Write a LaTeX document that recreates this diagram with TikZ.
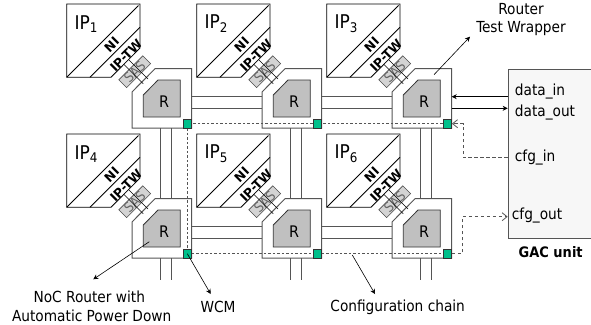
\documentclass[tikz,border=0pt]{standalone}
\usepackage{fontspec}
\setmainfont{DejaVu Sans Condensed}
\newfontfamily\tagfont{DejaVu Sans}
\usetikzlibrary{arrows.meta,positioning,calc}
\definecolor{wire}{HTML}{555555}
\definecolor{rcore}{HTML}{C0C0C0}
\definecolor{wcmgreen}{HTML}{00C08B}
\definecolor{gacfill}{HTML}{F7F7F7}

\begin{document}
\begin{tikzpicture}[x=1bp,y=-1bp,
  ipbox/.style={draw=black, line width=0.8bp, fill=white},
  tw/.style={draw=wire, line width=1bp, fill=white},
  rc/.style={draw=black!80, line width=0.8bp, fill=rcore},
  link/.style={draw=wire, line width=1bp},
  sas/.style={draw=black!70, line width=0.6bp, fill=rcore!70, minimum width=34bp, minimum height=11bp, inner sep=0pt, rotate=45, font=\fontsize{13.5}{13.5}\selectfont, text=black!60},
  wcm/.style={draw=black!80, line width=0.7bp, fill=wcmgreen, minimum size=8.6bp, inner sep=0pt},
  lab/.style={font=\fontsize{15.3}{17}\selectfont, inner sep=0pt},
  tag/.style={font=\tagfont\bfseries\fontsize{12.5}{13}\selectfont, rotate=45, inner sep=0pt},
  chain/.style={draw=wire, line width=0.9bp, dash pattern=on 2.5bp off 2bp},
  cfg/.style={draw=wire, line width=0.8bp, dash pattern=on 3.5bp off 2.5bp, -{Straight Barb[length=5bp,width=8bp]}},
  arr/.style={-{Stealth[length=5bp,width=5bp]}, line width=0.6bp, black}]
  \useasboundingbox (0,0) rectangle (591,324);

  % tiles: IP core, wrapper, router
  \foreach \i/\cx/\cy in {1/0/0,2/130/0,3/260/0,4/0/130,5/130/130,6/260/130} {
    \begin{scope}[shift={(\cx,\cy)}]
      \draw[ipbox] (66.7,4) -- (140,4) -- (140,48) -- (111,77.3) -- (66.7,77.3) -- cycle;
      \draw[ipbox] (66.7,77.3) -- (138.5,5.5);
      \draw[ipbox] (90,77.3) -- (140,27.3);
      \node[lab, anchor=west, font=\fontsize{19}{19}\selectfont] (ip\i) at (74.5,24) {IP\textsubscript{\i}};
      \node[tag] (ni\i) at (111.7,44.5) {NI};
      \node[tag] (iptw\i) at (126,55.5) {IP-TW};
      \draw[tw] (132,92) -- (155,68.7) -- (191.7,68.7) -- (191.7,128) -- (132,128) -- cycle;
      \draw[rc] (143.3,95) -- (158,80) -- (180.3,80) -- (180.3,117) -- (143.3,117) -- cycle;
      \node[lab, font=\fontsize{16}{16}\selectfont] (r\i) at (164,102) {R};
      \node[sas] (sas\i) at (134.7,71.7) {SAS};
      \draw[line width=0.6bp] (123.75,64.25) -- (143.25,83.75);
      \draw[line width=0.6bp] (128.5,59.5) -- (148,79);
      \node[wcm] (wcm\i) at (187.3,123.7) {};
      \coordinate (ea\i) at (191.7,96.7);
      \coordinate (eb\i) at (191.7,108.3);
      \coordinate (wa\i) at (132,96.7);
      \coordinate (wb\i) at (132,108.3);
      \coordinate (sa\i) at (160.3,128);
      \coordinate (sb\i) at (171.3,128);
      \coordinate (na\i) at (160.3,68.7);
      \coordinate (nb\i) at (171.3,68.7);
    \end{scope}
  }

  % mesh links
  \foreach \a/\b in {1/2,2/3,4/5,5/6} {
    \draw[link] (ea\a) -- (wa\b);
    \draw[link] (eb\a) -- (wb\b);
  }
  \foreach \a/\b in {1/4,2/5,3/6} {
    \draw[link] (sa\a) -- (na\b);
    \draw[link] (sb\a) -- (nb\b);
  }
  \foreach \i in {4,5,6} {
    \draw[link] (sa\i) -- ($(sa\i)+(0,22)$);
    \draw[link] (sb\i) -- ($(sb\i)+(0,22)$);
  }

  % GAC unit
  \node[draw=wire, line width=1bp, fill=gacfill, minimum width=85.3bp, minimum height=169bp, inner sep=0pt, anchor=north west] (gac) at (507.7,69) {};
  \node[lab, anchor=west] (datain) at (514.7,92) {data\_in};
  \node[lab, anchor=west] (dataout) at (514.7,112.7) {data\_out};
  \node[lab, anchor=west] (cfgin) at (514.7,157.7) {cfg\_in};
  \node[lab, anchor=west] (cfgout) at (511.7,215.7) {cfg\_out};
  \node[lab, font=\bfseries\fontsize{14.5}{14.5}\selectfont] (gaclabel) at (550.7,251.7) {GAC unit};
  \draw[arr] (gac.west |- ea3) -- (ea3);
  \draw[arr] (eb3) -- (gac.west |- eb3);

  % configuration chain
  \draw[chain] (wcm3) -- (wcm2);
  \draw[chain] (wcm2) -- (wcm1);
  \draw[chain] (wcm1) -- (wcm4);
  \draw[chain] (wcm4) -- (wcm5);
  \draw[chain] (wcm5) -- (wcm6);
  \foreach \i in {1,...,6} {\node[wcm] at (wcm\i) {};}
  \coordinate (turnin) at (463.3,123.7);
  \coordinate (turnout) at (462.7,216.7);
  \draw[cfg] (gac.west |- cfgin) -| (turnin) -- (wcm3.east);
  \draw[cfg] (wcm6.east) -| (turnout) -- (gac.west |- turnout);

  % callouts
  \node[lab] (rlabel) at (521,9.5) {Router};
  \node[lab] (twlabel) at (521,28.7) {Test Wrapper};
  \node[lab] (noc) at (89.3,297.3) {NoC Router with};
  \node[lab] (apd) at (91.7,316) {Automatic Power Down};
  \node[lab] (wcmlabel) at (218,306.7) {WCM};
  \node[lab] (chainlabel) at (397.7,307) {Configuration chain};
  \coordinate (twtip) at (470,36.7);
  \coordinate (twfoot) at (434,74.7);
  \coordinate (rfoot) at (149.3,241.7);
  \coordinate (roottip) at (93.3,279.3);
  \coordinate (wcmtip) at (210.7,294);
  \coordinate (chainfoot) at (352.3,255);
  \coordinate (chaintip) at (375,294);
  \draw[arr] (twfoot) -- (twtip);
  \draw[arr] (rfoot) -- (roottip);
  \draw[arr] (wcm4.center) -- (wcmtip);
  \draw[arr] (chainfoot) -- (chaintip);
\end{tikzpicture}
\end{document}
